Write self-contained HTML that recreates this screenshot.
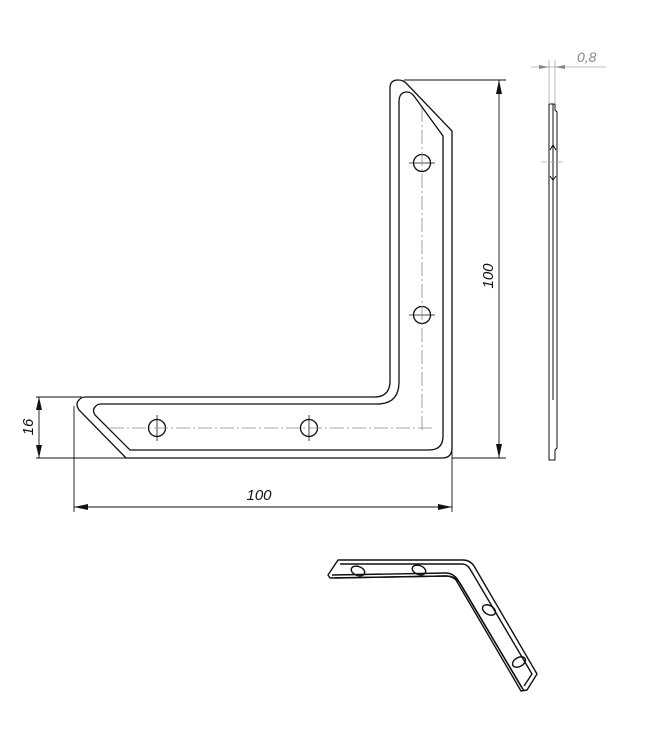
<!DOCTYPE html>
<html><head><meta charset="utf-8"><style>html,body{margin:0;padding:0;background:#fff}svg{display:block}</style></head><body>
<svg width="664" height="749" viewBox="0 0 664 749" xmlns="http://www.w3.org/2000/svg" font-family="Liberation Sans, sans-serif">
<g fill="none" stroke="#111" stroke-width="1.3">
<path d="M390 88 Q390 80 398 80 Q403 80 406 83 L452 131 L452 448 Q452 458 442 458 L126 458 L79 410 Q75 404 79 400 Q81 397 86 397 L374 397 Q390 397 390 381 Z"/>
<path d="M399 102 Q399 92 407 92 Q411 92 414 96 L443 136 L443 436 Q443 450 429 450 L130 450 L95 415 Q92 410 95 407 Q97 404 101 404 L377 404 Q399 404 399 382 Z"/>
<circle cx="422" cy="163" r="8.5"/><circle cx="422" cy="315" r="8.5"/>
<circle cx="157" cy="428" r="8.5"/><circle cx="309" cy="428" r="8.5"/>
</g>
<g stroke="#111" stroke-width="0.8">
<line x1="409" y1="163" x2="435" y2="163"/><line x1="409" y1="315" x2="435" y2="315"/>
<line x1="157" y1="415" x2="157" y2="441"/><line x1="309" y1="415" x2="309" y2="441"/>
</g>
<g stroke="#888" stroke-width="0.8" stroke-dasharray="14,3,2,3">
<line x1="422" y1="108" x2="422" y2="430"/>
<line x1="110" y1="428" x2="432" y2="428"/>
</g>
<g stroke="#111" stroke-width="0.9">
<line x1="404" y1="80" x2="506" y2="80"/><line x1="452" y1="458" x2="506" y2="458"/>
<line x1="499" y1="80" x2="499" y2="458"/>
<line x1="36" y1="397" x2="82" y2="397"/><line x1="36" y1="458" x2="126" y2="458"/>
<line x1="39" y1="397" x2="39" y2="458"/>
<line x1="74" y1="406" x2="74" y2="512"/><line x1="452" y1="440" x2="452" y2="512"/>
<line x1="74" y1="507" x2="452" y2="507"/>
</g>
<g fill="#111">
<path d="M499 80 L496 94 L502 94 Z"/><path d="M499 458 L496 444 L502 444 Z"/>
<path d="M39 397 L36 410 L42 410 Z"/><path d="M39 458 L36 445 L42 445 Z"/>
<path d="M74 507 L88 504 L88 510 Z"/><path d="M452 507 L438 504 L438 510 Z"/>
</g>
<text x="259" y="500" font-size="15" font-style="italic" text-anchor="middle" fill="#111">100</text>
<text transform="translate(493,276) rotate(-90)" font-size="15" font-style="italic" text-anchor="middle" fill="#111">100</text>
<text transform="translate(33,427) rotate(-90)" font-size="15" font-style="italic" text-anchor="middle" fill="#111">16</text>
<g stroke="#111" stroke-width="1" fill="none">
<path d="M549 104 L549 460 L555 460 L555 450 L557 448 L557 112 L555 110 L555 104 Z"/>
<line x1="553" y1="104" x2="553" y2="400"/>
<path d="M550 150 L553 145 L556 150 M550 176 L553 180 L556 176"/>
</g>
<g stroke="#aaa" stroke-width="0.8">
<line x1="549" y1="60" x2="549" y2="104"/><line x1="555" y1="60" x2="555" y2="104"/>
<line x1="531" y1="67" x2="606" y2="67"/>
<line x1="541" y1="162" x2="565" y2="162" stroke-dasharray="6,2"/>
</g>
<path d="M549 67 L539 65 L539 69 Z M555 67 L565 65 L565 69 Z" fill="#888"/>
<text x="577" y="62" font-size="14" font-style="italic" fill="#888">0,8</text>
<g stroke="#111" stroke-width="1.4" fill="none" stroke-linejoin="round">
<path d="M338 560 L463 560 Q470 560 474 566 L537 674 L527 690 L521 691 L456 580 Q452 576 446 576 L330 578 L328 575 Z"/>
<path d="M340 564 L462 564 Q467 564 470 569 L532 674 L524 686 M332 575 L446 573 Q453 573 458 580 L522 688"/>
<path d="M335 578 L446 576 Q455 576 460 583 L524 691"/>
<ellipse cx="358" cy="571" rx="7" ry="4.5" transform="rotate(20 358 571)"/>
<ellipse cx="419" cy="570" rx="7" ry="4.5" transform="rotate(20 419 570)"/>
<ellipse cx="489" cy="610" rx="7" ry="4.5" transform="rotate(30 489 610)"/>
<ellipse cx="519" cy="662" rx="7" ry="4.5" transform="rotate(-30 519 662)"/>
</g>
</svg>
</body></html>
